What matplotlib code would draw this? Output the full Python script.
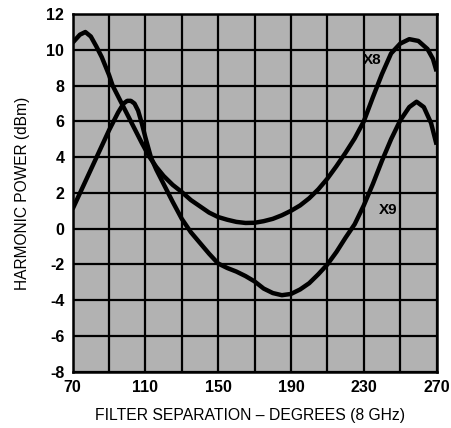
import matplotlib
matplotlib.use("Agg")
import matplotlib.pyplot as plt
import numpy as np

# degrees of filter separation, harmonic power in dBm
x8_deg = [70, 74, 77, 80, 83, 86, 90, 92, 96, 100, 104, 108, 112, 116, 120,
          125, 130, 135, 140, 145, 150, 155, 160, 165, 170, 175, 180, 185,
          190, 195, 200, 205, 210, 215, 220, 225, 230, 235, 240, 245, 250,
          255, 260, 265, 268, 270]
x8_dbm = [10.4, 10.85, 11.0, 10.75, 10.2, 9.6, 8.6, 8.0, 7.2, 6.4, 5.6, 4.8,
          4.05, 3.45, 2.95, 2.45, 2.05, 1.6, 1.25, 0.9, 0.65, 0.5, 0.38, 0.32,
          0.33, 0.42, 0.55, 0.75, 1.0, 1.3, 1.7, 2.2, 2.8, 3.5, 4.25, 5.05,
          6.0, 7.35, 8.65, 9.8, 10.35, 10.6, 10.5, 10.05, 9.5, 8.8]

x9_deg = [70, 75, 80, 85, 90, 95, 98, 100, 102, 104, 106, 108, 110, 113, 116,
          120, 125, 130, 135, 140, 145, 150, 155, 160, 165, 170, 175, 180,
          185, 190, 195, 200, 205, 210, 215, 220, 225, 230, 235, 240, 245,
          250, 255, 259, 263, 267, 270]
x9_dbm = [1.1, 2.2, 3.3, 4.4, 5.5, 6.5, 7.0, 7.15, 7.15, 7.0, 6.6, 5.9, 5.1,
          4.0, 3.3, 2.5, 1.5, 0.55, -0.2, -0.8, -1.4, -1.95, -2.2, -2.4,
          -2.65, -2.95, -3.35, -3.6, -3.72, -3.65, -3.4, -3.05, -2.55, -2.0,
          -1.3, -0.5, 0.25, 1.3, 2.5, 3.8, 5.0, 6.05, 6.8, 7.1, 6.8, 5.9, 4.7]

x_ticks = [70, 110, 150, 190, 230, 270]
y_ticks = [-8, -6, -4, -2, 0, 2, 4, 6, 8, 10, 12]

plt.rcParams["font.family"] = ["Liberation Sans", "DejaVu Sans"]
plt.rcParams["axes.unicode_minus"] = False

fig = plt.figure(figsize=(4.51, 4.28), dpi=100)
ax = fig.add_axes([0.161, 0.1315, 0.807, 0.8355])
ax.set_facecolor("#b2b2b2")

ax.set_xlim(70, 270)
ax.set_ylim(-8, 12)
ax.set_xticks(np.arange(70, 271, 20), minor=True)
ax.set_xticks(x_ticks)
ax.set_yticks(y_ticks)
ax.grid(True, which="both", color="black", linewidth=1.6)
ax.set_axisbelow(True)
ax.tick_params(which="both", length=0)
ax.tick_params(axis="x", pad=6)
ax.tick_params(axis="y", pad=6)
for lab in ax.get_xticklabels() + ax.get_yticklabels():
    lab.set_fontsize(11.5)
    lab.set_fontweight("bold")
for s in ax.spines.values():
    s.set_linewidth(1.8)

ax.plot(x8_deg, x8_dbm, color="black", linewidth=3.2, solid_capstyle="butt")
ax.plot(x9_deg, x9_dbm, color="black", linewidth=3.2, solid_capstyle="butt")

ax.text(234.5, 9.45, "X8", fontsize=11, fontweight="bold", ha="center",
        va="center")
ax.text(243.5, 1.05, "X9", fontsize=11, fontweight="bold", ha="center",
        va="center")

ax.set_ylabel("HARMONIC POWER (dBm)", fontsize=11.2, labelpad=12)
fig.text(0.555, 0.03, "FILTER SEPARATION \u2013 DEGREES (8 GHz)",
         fontsize=11.3, ha="center", va="center")

fig.savefig("out.png", dpi=100)
